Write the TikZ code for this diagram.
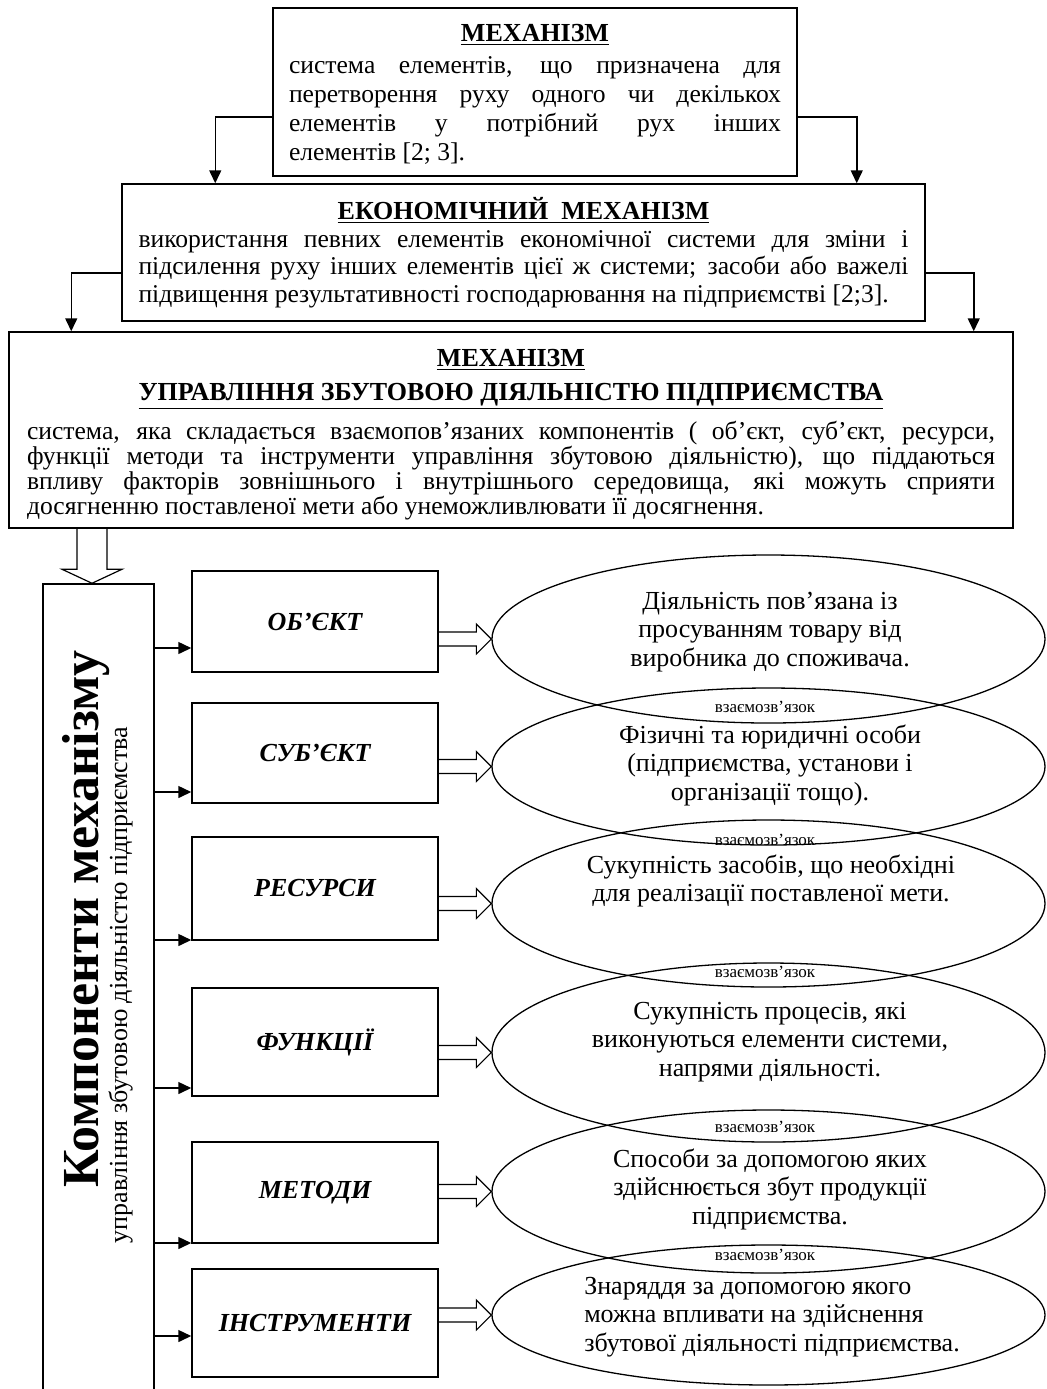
\documentclass[tikz,border=0pt]{standalone}
\usepackage{fontspec}
\setmainfont{Liberation Serif}
\usetikzlibrary{arrows.meta,calc,shapes.geometric,positioning}

\tikzset{
  box/.style={draw, line width=0.75pt, inner ysep=0pt},
  kbox/.style={draw, line width=0.75pt, minimum width=123pt, font=\fontsize{13}{15}\selectfont\bfseries\itshape},
  oval/.style={draw, ellipse, line width=0.65pt, minimum width=276.5pt, inner sep=0pt},
  etext/.style={align=center, inner sep=0pt, font=\fontsize{13}{14.25}\selectfont},
  link/.style={inner sep=0pt, font=\fontsize{8.5}{10}\selectfont},
  arr/.style={line width=0.75pt, -{Triangle[length=6.5pt,width=6pt]}},
  hollow/.style={line width=0.6pt},
}

% hollow arrow, horizontal
\newcommand\fatarrow[2]{%
  \draw[hollow] let \p1=#1, \p2=#2 in
    (\x1,\y2+3.5pt) -- (\x2-7.5pt,\y2+3.5pt) -- (\x2-7.5pt,\y2+7.5pt) -- (\x2,\y2)
    -- (\x2-7.5pt,\y2-7.5pt) -- (\x2-7.5pt,\y2-3.5pt) -- (\x1,\y2-3.5pt);
}

\begin{document}
\begin{tikzpicture}[x=0.5pt,y=-0.5pt]
\useasboundingbox (0,0) rectangle (1046,1389);

% top boxes
\node[box, text width=246pt, inner xsep=8pt, minimum height=84pt, align=justify,
      font=\fontsize{12.8}{14.5}\selectfont] (mech) at (535,92)
  {{\centering\fontsize{13}{17}\selectfont\bfseries\underline{МЕХАНІЗМ}\par}
   \vspace{1.5pt}
   система елементів, що призначена для\linebreak
   перетворення руху одного чи декількох\linebreak
   елементів у потрібний рух інших\linebreak
   елементів [2; 3].\par\kern-2.5pt};

\node[box, text width=385pt, inner xsep=8.25pt, minimum height=68.5pt, align=justify,
      font=\fontsize{12.8}{13.75}\selectfont] (econ) at (523.5,252.5)
  {{\centering\fontsize{13}{17}\selectfont\bfseries\underline{ЕКОНОМІЧНИЙ~~МЕХАНІЗМ}\par}
   використання певних елементів економічної системи для зміни і\linebreak
   підсилення руху інших елементів цієї ж системи; засоби або важелі\linebreak
   підвищення результативності господарювання на підприємстві [2;3].};

\node[box, text width=484pt, inner xsep=9pt, minimum height=98pt, align=justify,
      font=\fontsize{12.8}{12.5}\selectfont] (mgmt) at (511,430)
  {{\centering\fontsize{13}{17}\selectfont\bfseries\underline{МЕХАНІЗМ}\\
    \underline{УПРАВЛІННЯ ЗБУТОВОЮ ДІЯЛЬНІСТЮ ПІДПРИЄМСТВА}\par}
   \vspace{4.5pt}
   система, яка складається взаємопов’язаних компонентів ( об’єкт, суб’єкт, ресурси,\linebreak
   функції методи та інструменти управління збутовою діяльністю), що піддаються\linebreak
   впливу факторів зовнішнього і внутрішнього середовища, які можуть сприяти\linebreak
   досягненню поставленої мети або унеможливлювати її досягнення.\par\kern-4.5pt};

\draw[arr] ([yshift=-12.5pt]mech.west) -| ([xshift=47pt]econ.north west);
\draw[arr] ([yshift=-12.5pt]mech.east) -| ([xshift=-34.5pt]econ.north east);
\draw[arr] ([yshift=-10.25pt]econ.west) -| ([xshift=31.5pt]mgmt.north west);
\draw[arr] ([yshift=-10.25pt]econ.east) -| ([xshift=-20pt]mgmt.north east);

% components column
\node[box, minimum width=55.5pt, minimum height=418pt] (comp) at (98.5,1002) {};
\node[rotate=90, anchor=base, inner sep=0pt, font=\fontsize{26}{26}\selectfont\bfseries]
  (ctitle) at (98,919) {Компоненти механізму};
\node[rotate=90, anchor=base, inner sep=0pt, font=\fontsize{13}{13}\selectfont]
  (csub) at (127,985) {управління збутовою діяльністю підприємства};

\draw[hollow] let \p1=(mgmt.south), \p2=([xshift=-3.25pt]comp.north) in
  (\x2-7.5pt,\y1) -- (\x2-7.5pt,\y2+7pt) -- (\x2-15pt,\y2+7pt) -- (\x2,\y2)
  -- (\x2+15pt,\y2+7pt) -- (\x2+7.5pt,\y2+7pt) -- (\x2+7.5pt,\y1);

\node[kbox, minimum height=50.5pt] (obj)   at (315,621.5)  {ОБ’ЄКТ};
\node[kbox, minimum height=50pt]   (subj)  at (315,753)    {СУБ’ЄКТ};
\node[kbox, minimum height=51.5pt] (res)   at (315,888.5)  {РЕСУРСИ};
\node[kbox, minimum height=54pt]   (func)  at (315,1042)   {ФУНКЦІЇ};
\node[kbox, minimum height=50.5pt] (meth)  at (315,1192.5) {МЕТОДИ};
\node[kbox, minimum height=54pt]   (instr) at (315,1323)   {ІНСТРУМЕНТИ};

\foreach \b/\s in {obj/-13.25, subj/-19.5, res/-25.75, func/-23, meth/-25.25, instr/-6.5}{
  \coordinate (\b-in) at ([yshift=\s pt]\b.west);
  \draw[arr] (comp.east |- \b-in) -- (\b-in);
}

% ellipses
\node[oval, minimum height=84pt]   (e1) at (768.5,639)    {};
\node[oval, minimum height=78.5pt] (e2) at (768.5,766.5)  {};
\node[oval, minimum height=83.5pt] (e3) at (768.5,903.5)  {};
\node[oval, minimum height=89.5pt] (e4) at (768.5,1052.5) {};
\node[oval, minimum height=81.5pt] (e5) at (768.5,1191.5) {};
\node[oval, minimum height=70pt]   (e6) at (768.5,1315)   {};

\foreach \b/\e in {obj/e1, subj/e2, res/e3, func/e4, meth/e5, instr/e6}
  \fatarrow{(\b.east)}{(\e.west)};

\node[etext] (t1) at (770,632)  {Діяльність пов’язана із\\просуванням товару від\\виробника до споживача.};
\node[etext] (t2) at (770,765)  {Фізичні та юридичні особи\\(підприємства, установи і\\організації тощо).};
\node[etext] (t3) at (771,881)  {Сукупність засобів, що необхідні\\для реалізації поставленої мети.};
\node[etext] (t4) at (770,1042) {Сукупність процесів, які\\виконуються елементи системи,\\напрями діяльності.};
\node[etext] (t5) at (770,1189) {Способи за допомогою яких\\здійснюється збут продукції\\підприємства.};
\node[etext, align=left] (t6) at (772,1317) {Знаряддя за допомогою якого\\можна впливати на здійснення\\збутової діяльності підприємства.};

\foreach \y [count=\i] in {707, 840, 972, 1127, 1255}
  \node[link] (link\i) at (765,\y) {взаємозв’язок};

\end{tikzpicture}
\end{document}
